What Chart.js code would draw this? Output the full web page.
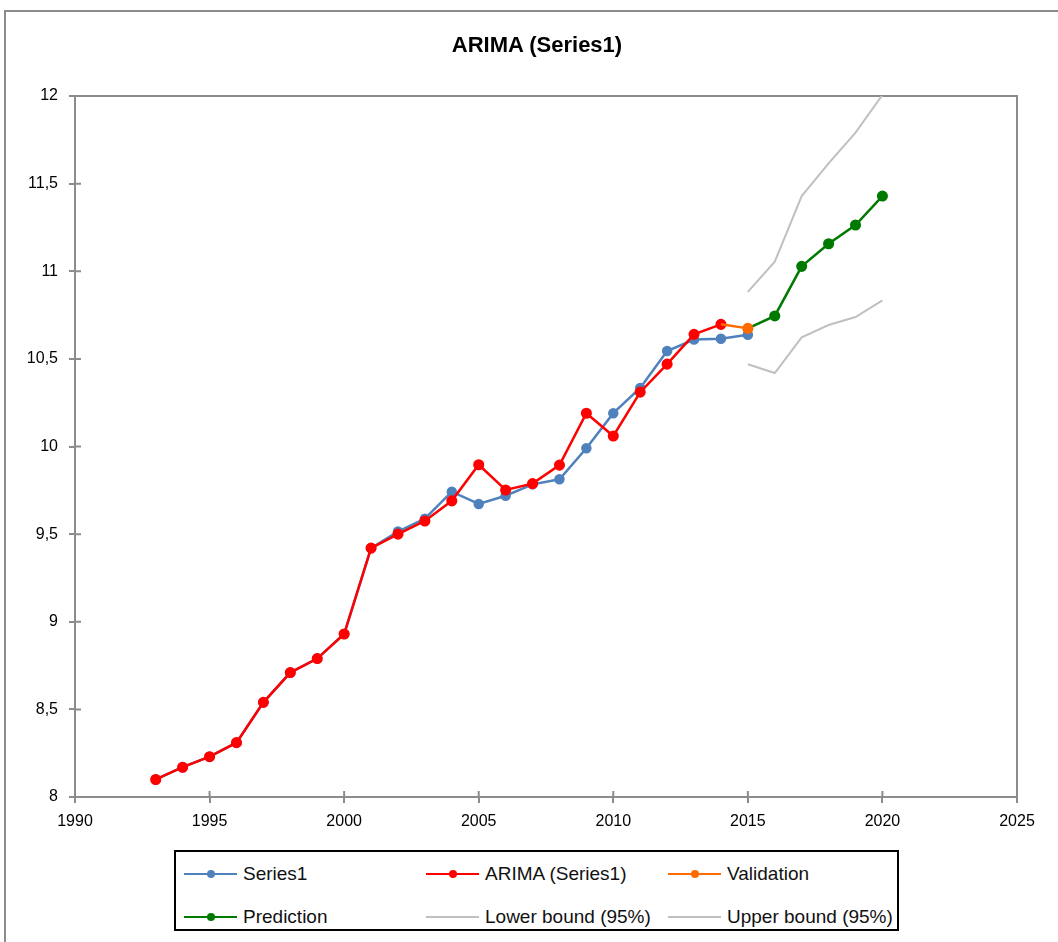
<!DOCTYPE html>
<html>
<head>
<meta charset="utf-8">
<title>ARIMA (Series1)</title>
<script src="https://cdn.jsdelivr.net/npm/chart.js@4.4.1/dist/chart.umd.min.js"></script>
<style>
  html, body { margin: 0; padding: 0; background: #fff; overflow: hidden; }
  body { width: 1058px; height: 942px; position: relative; font-family: 'Liberation Sans', Arial, sans-serif; }
  #frame { position: absolute; left: 4px; top: 10px; width: 1200px; height: 1100px; border: 2px solid #8c8c8c; box-sizing: border-box; }
  #wrap { position: absolute; left: 0; top: 0; width: 1058px; height: 942px; }
  #title { position: absolute; left: 337px; top: 31px; width: 400px; text-align: center; font-size: 22px; font-weight: bold; color: #000; line-height: 28px; }
  #legend { position: absolute; left: 174px; top: 850px; width: 725px; height: 81px; border: 2px solid #000; box-sizing: border-box; background: #fff; }
  .item { position: absolute; height: 24px; display: flex; align-items: center; white-space: nowrap; font-size: 19px; color: #111; }
  .icon { position: relative; width: 53px; height: 2px; margin-right: 6px; }
  .dot { position: absolute; left: 23px; top: -3.5px; width: 8px; height: 8px; border-radius: 50%; }
</style>
</head>
<body>
<div id="frame"></div>
<div id="wrap"><canvas id="myChart" width="1058" height="942"></canvas></div>
<div id="title">ARIMA (Series1)</div>
<div id="legend"></div>
<script>
// Valeurs
const series1Years = [1993, 1994, 1995, 1996, 1997, 1998, 1999, 2000, 2001, 2002, 2003, 2004, 2005, 2006, 2007, 2008, 2009, 2010, 2011, 2012, 2013, 2014, 2015];
const series1 = [8.10, 8.17, 8.23, 8.31, 8.54, 8.71, 8.79, 8.93, 9.42, 9.515, 9.588, 9.742, 9.672, 9.719, 9.784, 9.813, 9.99, 10.19, 10.334, 10.545, 10.61, 10.615, 10.638];

const arimaYears = [1993, 1994, 1995, 1996, 1997, 1998, 1999, 2000, 2001, 2002, 2003, 2004, 2005, 2006, 2007, 2008, 2009, 2010, 2011, 2012, 2013, 2014];
const arima = [8.10, 8.17, 8.23, 8.31, 8.54, 8.71, 8.79, 8.93, 9.42, 9.50, 9.575, 9.69, 9.896, 9.752, 9.788, 9.894, 10.19, 10.06, 10.31, 10.47, 10.64, 10.697];

const validationYears = [2014, 2015];
const validation = [10.697, 10.674];

const predictionYears = [2015, 2016, 2017, 2018, 2019, 2020];
const prediction = [10.674, 10.745, 11.028, 11.157, 11.264, 11.429];

const boundYears = [2015, 2016, 2017, 2018, 2019, 2020];
const lowerBound = [10.469, 10.419, 10.623, 10.693, 10.739, 10.834];
const upperBound = [10.882, 11.055, 11.429, 11.616, 11.791, 12.006];

const xTicks = [1990, 1995, 2000, 2005, 2010, 2015, 2020, 2025];
const yTicks = [8, 8.5, 9, 9.5, 10, 10.5, 11, 11.5, 12];

const BLUE = '#4f81bd';
const RED = '#ff0000';
const ORANGE = '#ff6a00';
const GREEN = '#007a00';
const GREY = '#c0c0c0';
const AXIS = '#8c8c8c';

const toPoints = (xs, ys) => xs.map((x, i) => ({ x: x, y: ys[i] }));

Chart.defaults.font.family = "'Liberation Sans', Arial, sans-serif";
Chart.defaults.color = '#000';

// Cadre de la zone de tracé + petites graduations vers l'intérieur
const frameTicks = {
    id: 'frameTicks',
    beforeDatasetsDraw(chart) {
        const { ctx, chartArea: a, scales } = chart;
        ctx.save();
        ctx.strokeStyle = AXIS;
        ctx.lineWidth = 2;
        ctx.beginPath();
        ctx.moveTo(a.left, a.top);
        ctx.lineTo(a.right, a.top);
        ctx.lineTo(a.right, a.bottom);
        scales.x.ticks.forEach(t => {
            const px = scales.x.getPixelForValue(t.value);
            ctx.moveTo(px, a.bottom);
            ctx.lineTo(px, a.bottom - 6);
        });
        scales.y.ticks.forEach(t => {
            const py = scales.y.getPixelForValue(t.value);
            ctx.moveTo(a.left, py);
            ctx.lineTo(a.left + 6, py);
        });
        ctx.stroke();
        ctx.restore();
    }
};

const datasets = [
    { label: 'Series1', data: toPoints(series1Years, series1), borderColor: BLUE, backgroundColor: BLUE, borderWidth: 2.5, pointRadius: 4, order: 5, marker: true },
    { label: 'ARIMA (Series1)', data: toPoints(arimaYears, arima), borderColor: RED, backgroundColor: RED, borderWidth: 2.5, pointRadius: 4.3, order: 4, marker: true },
    { label: 'Validation', data: toPoints(validationYears, validation), borderColor: ORANGE, backgroundColor: ORANGE, borderWidth: 2.5, pointRadius: [0, 4.3], order: 2, marker: true },
    { label: 'Prediction', data: toPoints(predictionYears, prediction), borderColor: GREEN, backgroundColor: GREEN, borderWidth: 2.5, pointRadius: [0, 4.3, 4.3, 4.3, 4.3, 4.3], order: 3, marker: true },
    { label: 'Lower bound (95%)', data: toPoints(boundYears, lowerBound), borderColor: GREY, backgroundColor: GREY, borderWidth: 2, pointRadius: 0, order: 6, marker: false },
    { label: 'Upper bound (95%)', data: toPoints(boundYears, upperBound), borderColor: GREY, backgroundColor: GREY, borderWidth: 2, pointRadius: 0, order: 6, marker: false }
];

new Chart(document.getElementById('myChart'), {
    type: 'line',
    data: { datasets },
    options: {
        responsive: false,
        animation: false,
        events: [],
        elements: { line: { tension: 0 }, point: { borderWidth: 0, hoverRadius: 4 } },
        layout: { padding: { left: 0, right: 41, top: 96, bottom: 105 } },
        plugins: {
            legend: { display: false },
            tooltip: { enabled: false },
            title: { display: false }
        },
        scales: {
            x: {
                type: 'linear',
                min: xTicks[0],
                max: xTicks[xTicks.length - 1],
                afterBuildTicks: s => { s.ticks = xTicks.map(v => ({ value: v })); },
                afterFit: s => { s.height = 40; },
                ticks: { font: { size: 16 }, padding: 9, callback: v => String(v) },
                grid: { drawOnChartArea: false, tickLength: 6, color: AXIS, lineWidth: 2 },
                border: { display: true, color: AXIS, width: 2 }
            },
            y: {
                min: yTicks[0],
                max: yTicks[yTicks.length - 1],
                afterBuildTicks: s => { s.ticks = yTicks.map(v => ({ value: v })); },
                afterFit: s => { s.width = 75; },
                ticks: { font: { size: 16 }, padding: 11, callback: v => String(v).replace('.', ',') },
                grid: { drawOnChartArea: false, tickLength: 6, color: AXIS, lineWidth: 2 },
                border: { display: true, color: AXIS, width: 2 }
            }
        }
    },
    plugins: [frameTicks]
});

// Légende HTML en grille 3 x 2
const legend = document.getElementById('legend');
const colX = [8, 250, 492];
const rowY = [10, 53];
datasets.forEach((d, i) => {
    const item = document.createElement('div');
    item.className = 'item';
    item.style.left = colX[i % 3] + 'px';
    item.style.top = rowY[Math.floor(i / 3)] + 'px';
    const icon = document.createElement('span');
    icon.className = 'icon';
    icon.style.background = d.borderColor;
    if (d.marker) {
        const dot = document.createElement('span');
        dot.className = 'dot';
        dot.style.background = d.borderColor;
        icon.appendChild(dot);
    }
    item.appendChild(icon);
    item.appendChild(document.createTextNode(d.label));
    legend.appendChild(item);
});
</script>
</body>
</html>
